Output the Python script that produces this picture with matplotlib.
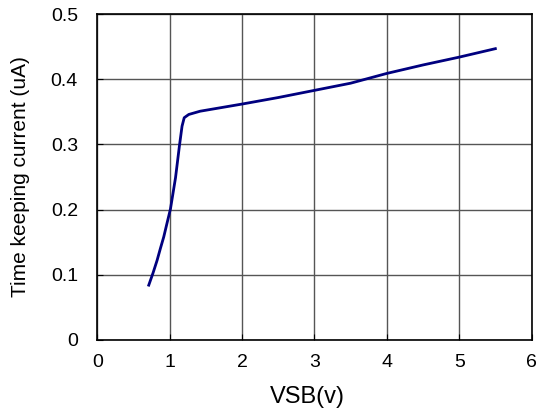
import matplotlib.pyplot as plt

plt.rcParams['font.family'] = ['Liberation Sans', 'DejaVu Sans']

# supply voltage (V) vs time keeping current (uA)
vsb = [0.71, 0.77, 0.825, 0.87, 0.917, 0.96, 1.01, 1.08, 1.134, 1.17, 1.2, 1.263, 1.42,
       2.0, 2.5, 3.0, 3.5, 4.0, 4.5, 5.0, 5.5]
current = [0.084, 0.103, 0.122, 0.14, 0.158, 0.178, 0.201, 0.249, 0.298, 0.328, 0.341, 0.346, 0.351,
           0.362, 0.372, 0.383, 0.394, 0.409, 0.422, 0.434, 0.447]

fig = plt.figure(figsize=(5.38, 4.16), dpi=100)
ax = fig.add_axes([0.181, 0.183, 0.807, 0.783])

ax.plot(vsb, current, color='#00007f', linewidth=2)

ax.set_xlim(0, 6)
ax.set_ylim(0, 0.5)
ax.set_xticks(range(7))
ax.set_yticks([0, 0.1, 0.2, 0.3, 0.4, 0.5])
ax.set_yticklabels(['0', '0.1', '0.2', '0.3', '0.4', '0.5'])
ax.grid(True, color='#555555', linewidth=1)
ax.tick_params(direction='in', length=4, labelsize=14)
ax.tick_params(axis='x', pad=10)
ax.tick_params(axis='y', pad=14)
for s in ax.spines.values():
    s.set_linewidth(1.2)

ax.set_ylabel('Time keeping current (uA)', fontsize=15, labelpad=15)
fig.text(0.572, 0.031, 'VSB(v)', fontsize=17, ha='center', va='baseline')

fig.savefig('out.png')
